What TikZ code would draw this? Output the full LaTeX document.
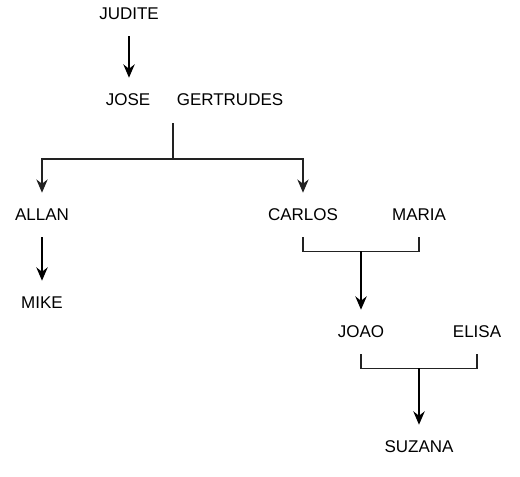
\documentclass[tikz,border=0pt]{standalone}
\usepackage{fontspec}
\setmainfont{Liberation Sans}
\usetikzlibrary{arrows.meta,positioning,calc}
\definecolor{Ink}{HTML}{000000}
\definecolor{Wire}{HTML}{222222}
\begin{document}
\begin{tikzpicture}[x=0.75pt,y=-0.75pt,
  person/.style={font=\fontsize{12.75}{15}\selectfont,text=Ink,inner sep=0pt,minimum height=33pt},
  child/.style={-{Stealth[length=10pt,width=8.5pt]},Ink,line width=1.5pt},
  link/.style={-{Stealth[length=10pt,width=8.5pt]},Wire,line width=1pt},
  pair/.style={Wire,line width=1pt}]
\useasboundingbox (0,0) rectangle (520,476);
% people
\node[person] (judite) at (129,14) {JUDITE};
\node[person] (jose) at (128,100) {JOSE};
\node[person] (gertrudes) at (230,100) {GERTRUDES};
\node[person] (allan) at (42,215) {ALLAN};
\node[person] (mike) at (42,303) {MIKE};
\node[person] (carlos) at (303,215) {CARLOS};
\node[person] (maria) at (419,215) {MARIA};
\node[person] (joao) at (361,332) {JOAO};
\node[person] (elisa) at (477,332) {ELISA};
\node[person] (suzana) at (419,447) {SUZANA};
% JOSE + GERTRUDES
\coordinate (jg) at (173,123);
\coordinate (jgsplit) at (173,159);
\draw[pair] (jg) -- (jgsplit);
\draw[link] (jgsplit) -| (allan.north);
\draw[link] (jgsplit) -| (carlos.north);
% single lines
\draw[child] (judite.south) -- (judite.south |- jose.north);
\draw[child] (allan.south) -- (mike.north);
% CARLOS + MARIA
\coordinate (cm) at ($(carlos.south)!0.5!(maria.south)+(0,14)$);
\draw[pair] (carlos.south) -- ++(0,14) -| (maria.south);
\draw[child] (cm) -- (joao.north);
% JOAO + ELISA
\coordinate (je) at ($(joao.south)!0.5!(elisa.south)+(0,14)$);
\draw[pair] (joao.south) -- ++(0,14) -| (elisa.south);
\draw[child] (je) -- (suzana.north);
\end{tikzpicture}
\end{document}
